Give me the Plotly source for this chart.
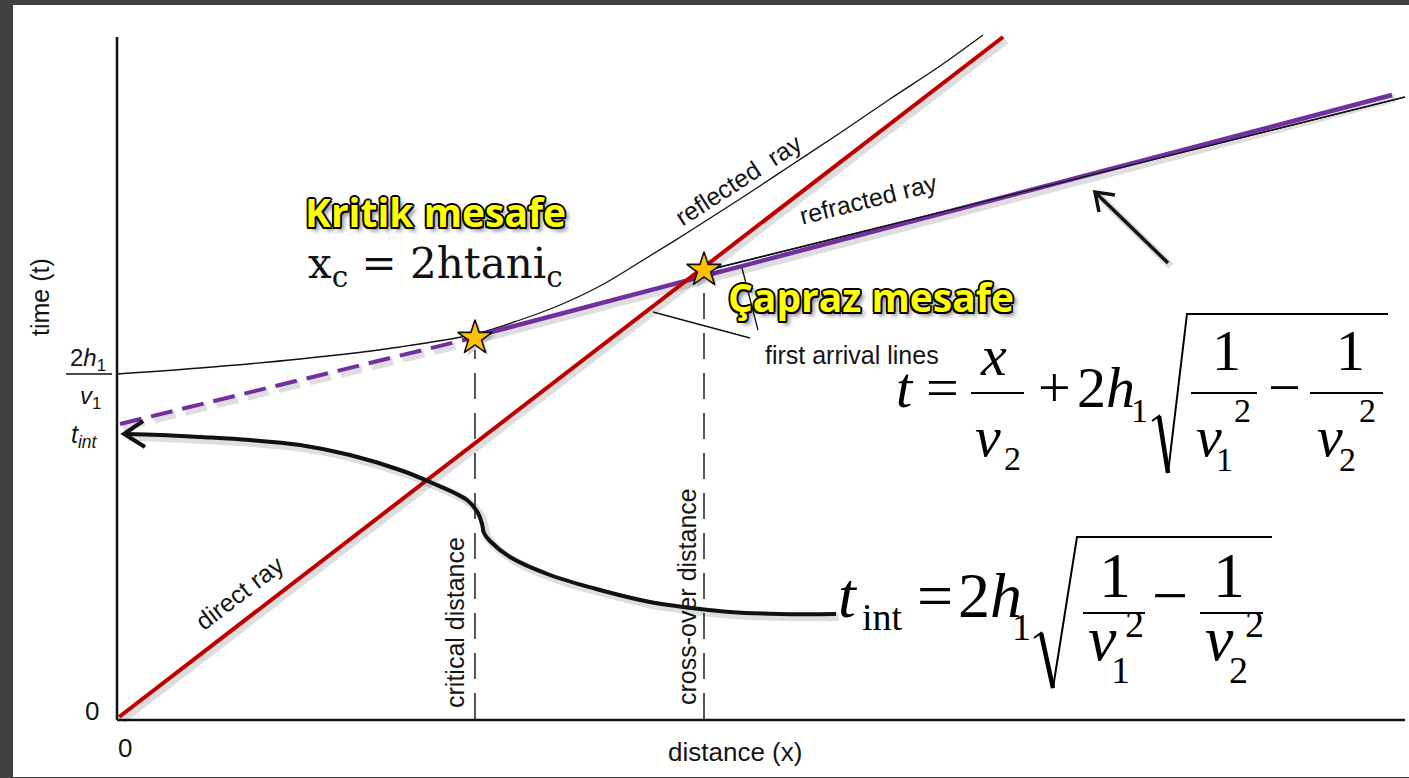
import plotly.graph_objects as go

# Page and graph origin (one data unit equals one screen pixel)
PAGE_W, PAGE_H = 1409, 778
ORIGIN_X, ORIGIN_Y = 117, 719
XR = [-ORIGIN_X, PAGE_W - ORIGIN_X]
YR = [ORIGIN_Y - PAGE_H, ORIGIN_Y]

# ---- travel-time branches (distance x, time t) ----
direct_x = [2, 886]
direct_t = [2, 682]

refr_dash_x = [3, 351]          # refracted branch extrapolated back to t_int
refr_dash_t = [295, 380]
refr_x = [359, 1275]            # observed refracted branch
refr_t = [383, 624]
refr_thin_x = [587, 1288]       # original thin refracted trace
refr_thin_t = [448, 622]

refl_x = [0, 83, 183, 283, 358, 403, 443, 483, 523, 573, 623, 673, 723, 773, 823, 866]
refl_t = [345, 351, 360, 372, 385, 399, 414, 433, 457, 488, 520, 553, 586, 620, 653, 684]

crit_x, crit_t = 358, 381       # critical distance
cross_x, cross_t = 587, 449     # cross-over distance
crit_top, cross_top = 369, 435

axis_t_top = 682
axis_x_end = 1288

# pointers for "first arrival lines"
ptr1_x, ptr1_t = [536, 633], [407, 381]
ptr2_x, ptr2_t = [625, 641], [451, 389]

# curved arrow from the t_int formula to the intercept
arc_x = [719, 663, 613, 583, 533, 483, 433, 393, 373, 367, 365, 361, 350, 313, 283, 233, 183, 133, 83, 43, 8]
arc_t = [105, 105, 107, 110, 117, 129, 144, 162, 178, 186, 195, 206, 219, 237, 249, 264, 274, 279, 282, 284, 285]
arc_head_x, arc_head_t = [26, 7, 28], [298, 285, 272]

# straight arrow pointing at the refracted branch
arr_x, arr_t = [1051, 980], [456, 525]
arr_head_x, arr_head_t = [982, 978, 998], [507, 527, 524]

BLACK = "#111111"
RED = "#C00000"
PURPLE = "#7030A0"
GOLD = "#FFC000"
YELLOW = "#FFFF00"

fig = go.Figure()


def add_line(x, t, color, width, dash=None, shadow=False, shape="linear"):
    if shadow:
        fig.add_trace(go.Scatter(
            x=[v + 3 for v in x], y=[v - 3 for v in t], mode="lines",
            line=dict(color="rgba(0,0,0,0.13)", width=width + 4, dash=dash, shape=shape),
            hoverinfo="skip"))
    fig.add_trace(go.Scatter(
        x=x, y=t, mode="lines",
        line=dict(color=color, width=width, dash=dash, shape=shape),
        hoverinfo="skip"))


# axes of the travel-time graph
add_line([0, 0], [-1, axis_t_top], BLACK, 2.5)
add_line([0, axis_x_end], [-1, -1], BLACK, 2.5)

# critical and cross-over distance markers
add_line([crit_x, crit_x], [0, crit_top], BLACK, 1.4, dash="26px,14px")
add_line([cross_x, cross_x], [0, cross_top], BLACK, 1.4, dash="26px,14px")

# first arrival pointers
add_line(ptr1_x, ptr1_t, BLACK, 1.3)
add_line(ptr2_x, ptr2_t, BLACK, 1.3)

# reflected hyperbola
add_line(refl_x, refl_t, BLACK, 1.3, shape="spline")

# refracted and direct branches
add_line(refr_thin_x, refr_thin_t, BLACK, 1.5)
add_line(refr_dash_x, refr_dash_t, PURPLE, 4, dash="22px,10px", shadow=True)
add_line(refr_x, refr_t, PURPLE, 4.5, shadow=True)
add_line(direct_x, direct_t, RED, 4, shadow=True)
add_line(refr_thin_x[-2:], refr_thin_t[-2:], BLACK, 1.2)

# arrows
add_line(arc_x, arc_t, BLACK, 4, shadow=True, shape="spline")
add_line(arc_head_x, arc_head_t, BLACK, 4)
add_line(arr_x, arr_t, BLACK, 3.5, shadow=True)
add_line(arr_head_x, arr_head_t, BLACK, 3.5)

# stars at critical and cross-over distances
star_x = [crit_x, cross_x]
star_t = [crit_t, cross_t]
fig.add_trace(go.Scatter(
    x=[v + 3 for v in star_x], y=[v - 3 for v in star_t], mode="markers",
    marker=dict(symbol="star", size=26, color="rgba(0,0,0,0.18)", line=dict(width=0)),
    hoverinfo="skip"))
fig.add_trace(go.Scatter(
    x=star_x, y=star_t, mode="markers",
    marker=dict(symbol="star", size=26, color=GOLD, line=dict(color=BLACK, width=1.6)),
    hoverinfo="skip"))


def label(x, t, text, size=26, angle=0, family="Liberation Sans", color="#151515",
          xanchor="center", yanchor="middle", **font_kw):
    fig.add_annotation(
        x=x, y=t, text=text, showarrow=False, textangle=angle,
        xanchor=xanchor, yanchor=yanchor, borderpad=0,
        font=dict(size=size, family=family, color=color, **font_kw))


# scanned figure labels
label(122, 126, "direct ray", size=25, angle=-37.6)
label(338, 96, "critical distance", size=25, angle=-90)
label(570, 122, "cross-over distance", size=25, angle=-90)
label(621, 539, "reflected  ray", size=25, angle=-33)
label(751, 520, "refracted ray", size=25, angle=-14)
label(735, 364, "first arrival lines", size=25)
label(-77, 422, "time (t)", size=25, angle=-90)
label(618, -33, "distance (x)", size=26)
label(-25, 8, "0", size=26)
label(8, -29, "0", size=26)
label(-29, 360, "2<i>h</i><sub>1</sub>", size=24)
add_line([-51, -5], [345, 345], BLACK, 1.4)
label(-27, 322, "<i>v</i><sub>1</sub>", size=24)
label(-33, 283, "<i>t</i><sub><i>int</i></sub>", size=25)

# yellow outlined headings
OUTLINE = ("-1.5px -1.5px 0 #000, 1.5px -1.5px 0 #000, -1.5px 1.5px 0 #000, "
           "1.5px 1.5px 0 #000, 0 1.8px 0 #000, 0 -1.8px 0 #000, 1.8px 0 0 #000, "
           "-1.8px 0 0 #000, 4px 4px 4px rgba(0,0,0,0.45)")
label(318, 508, "Kritik mesafe", size=39, family="Open Sans", color=YELLOW,
      weight="bold", shadow=OUTLINE)
label(754, 423, "Çapraz mesafe", size=39, family="Open Sans", color=YELLOW,
      weight="bold", shadow=OUTLINE)
label(190, 453, "x<sub>c</sub> = 2htani<sub>c</sub>", size=42, family="DejaVu Serif",
      color="#111111", xanchor="left")

# ---- formulas ----
SERIF = "Liberation Serif"


def glyph(x, base, text, size):
    # place text so that its baseline sits at "base"
    label(x, base + 0.34 * size, text, size=size, family=SERIF, color="#000000")


def bar(x0, x1, t, width=2.2):
    add_line([x0, x1], [t, t], "#000000", width)


def radical(px, pt):
    add_line(px, pt, "#000000", 2)
    add_line(px[1:3], pt[1:3], "#000000", 4.5)


# t = x/v2 + 2h1 sqrt(1/v1^2 - 1/v2^2)
F1, S1 = 58, 34
glyph(788, 312, "<i>t</i>", F1)
glyph(825, 312, "=", F1)
glyph(876, 344, "<i>x</i>", F1)
bar(854, 907, 326)
glyph(871, 263, "<i>v</i>", F1)
glyph(895, 249, "2", S1)
glyph(937, 312, "+", F1)
glyph(989, 312, "2<i>h</i>", F1)
glyph(1022, 297, "1", S1)
radical([1035, 1042, 1051, 1070, 1271], [298, 303, 246, 405, 405])
glyph(1109, 349, "1", F1)
bar(1074, 1140, 326)
glyph(1092, 263, "<i>v</i>", F1)
glyph(1107, 248, "1", S1)
glyph(1125, 297, "2", S1)
glyph(1167, 312, "\u2212", F1)
glyph(1233, 349, "1", F1)
bar(1193, 1266, 326)
glyph(1213, 263, "<i>v</i>", F1)
glyph(1230, 248, "2", S1)
glyph(1250, 297, "2", S1)

# t_int = 2h1 sqrt(1/v1^2 - 1/v2^2)
F2, S2 = 64, 38
glyph(731, 102, "<i>t</i>", F2)
glyph(765, 89, "int", S2)
glyph(818, 102, "=", F2)
glyph(873, 102, "2<i>h</i>", F2)
glyph(904, 79, "1", S2)
radical([917, 924, 936, 960, 1155], [81, 86, 31, 182, 182])
glyph(998, 122, "1", F2)
bar(966, 1028, 106)
glyph(985, 59, "<i>v</i>", F2)
glyph(1003, 36, "1", S2)
glyph(1017, 82, "2", S2)
glyph(1053, 102, "\u2212", F2)
glyph(1112, 122, "1", F2)
bar(1083, 1146, 106)
glyph(1102, 59, "<i>v</i>", F2)
glyph(1121, 36, "2", S2)
glyph(1137, 82, "2", S2)

# white slide area on dark surround
fig.add_shape(type="rect", x0=-104, x1=XR[1] + 5, y0=-58, y1=714,
              fillcolor="white", line=dict(width=0), layer="below")

fig.update_layout(
    width=PAGE_W, height=PAGE_H,
    margin=dict(l=0, r=0, t=0, b=0),
    paper_bgcolor="#414141", plot_bgcolor="#414141",
    showlegend=False,
    xaxis=dict(range=XR, visible=False, fixedrange=True),
    yaxis=dict(range=YR, visible=False, fixedrange=True),
)

fig.write_html("out.html")
